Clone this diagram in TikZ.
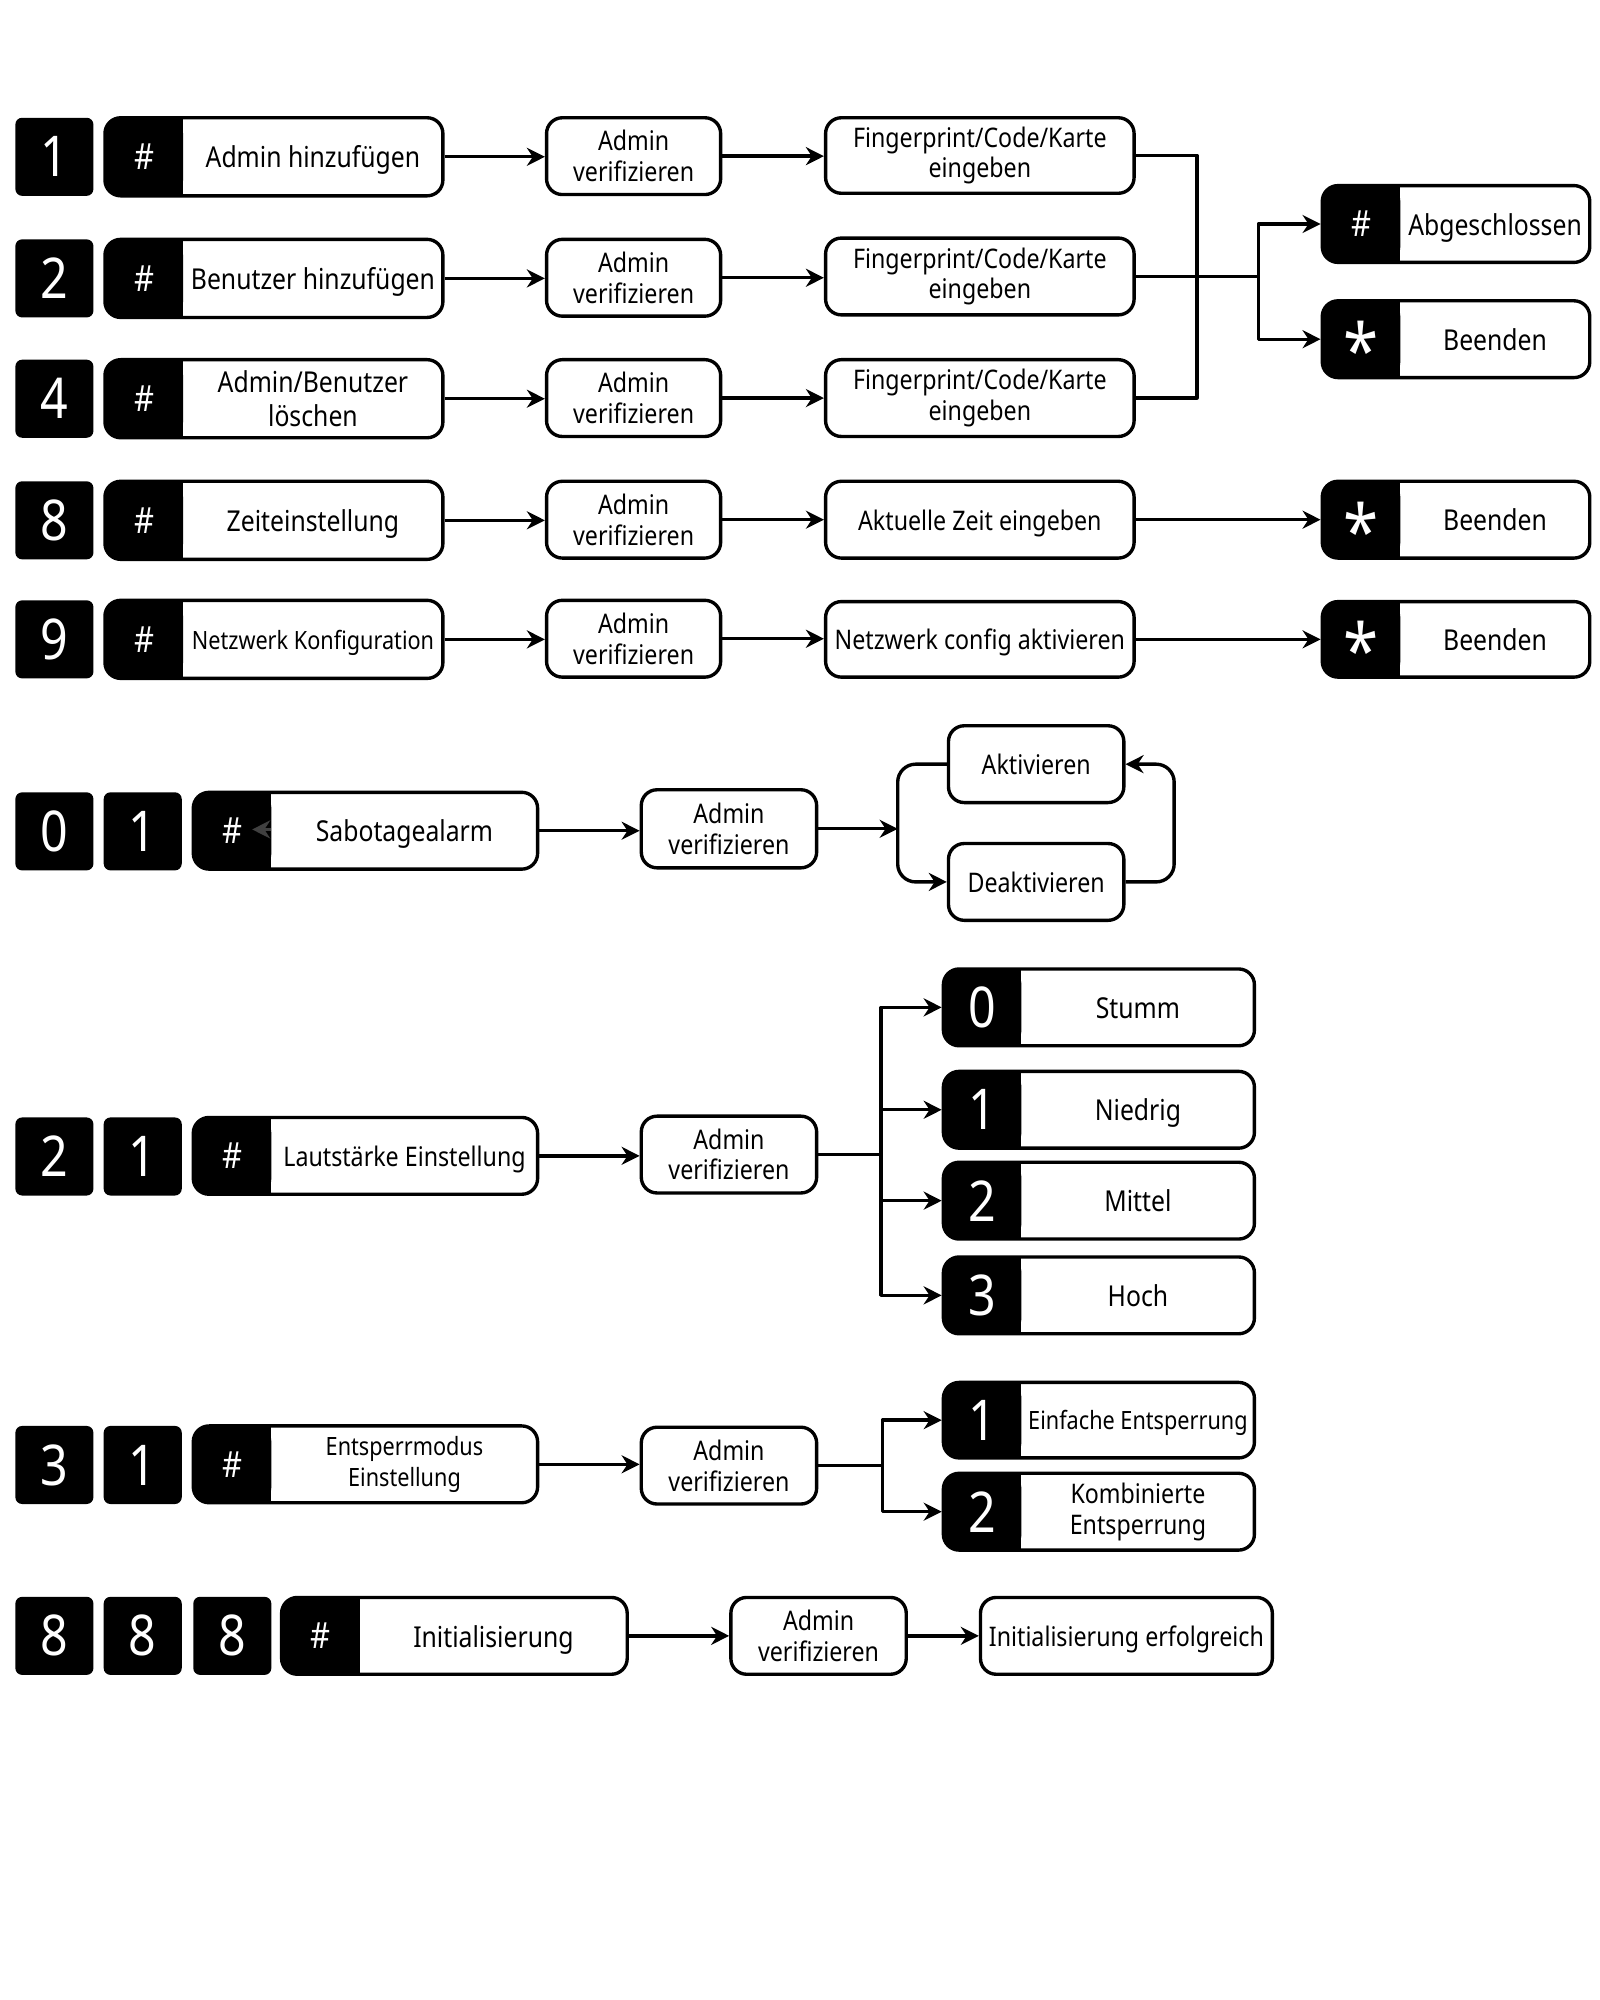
\documentclass[tikz,border=0pt]{standalone}
\usepackage{fontspec}
\setmainfont{Noto Sans}[FakeStretch=0.86]
\usetikzlibrary{arrows.meta,fit}

\tikzset{
  base/.style={line width=1.5pt},
  box/.style={base, draw, fill=white, rounded corners=7pt, inner sep=0pt},
  txt/.style={align=center, inner sep=0pt, font=\fontsize{12}{13.6}\selectfont, text height=12.8pt, text depth=3.5pt},
  lab/.style={font=\fontsize{12.8}{15.3}\selectfont, text height=13.7pt, text depth=3.75pt},
  small/.style={font=\fontsize{11.2}{13.6}\selectfont, text height=12pt, text depth=3.3pt},
  multi/.style={text height=, text depth=},
  keycap/.style={fill=black, rounded corners=3pt, minimum size=1.22cm, inner sep=0pt, text=white, font=\fontsize{25}{25}\selectfont},
  hash/.style={text=white, inner sep=0pt, font=\fontsize{16}{16}\selectfont},
  digit/.style={text=white, inner sep=0pt, font=\fontsize{25}{25}\selectfont},
  starsym/.style={text=white, inner sep=0pt, yshift=-4.5pt, font=\fontsize{33}{33}\selectfont\bfseries},
  arr/.style={base, -{Stealth[length=8pt,width=8pt]}},
}

% box from corners: name, x1, y1, x2, y2, text
\newcommand\bx[7][]{%
  \node[box, fit={(#3,#4) (#5,#6)}] (#2) {};
  \node[txt, #1] (#2-t) at (#2.center) {#7};}
% box with black tag on the left: name, x1, y1, x2, y2, tag style, tag, text
\newcommand\tagbox[9][]{%
  \node[box, fit={(#3,#4) (#5,#6)}] (#2) {};
  \fill[rounded corners=7pt] (#3,#4) rectangle ({#3+61},#6);
  \fill ({#3+31},#4) rectangle ({#3+61},#6);
  \node[#7] (#2-s) at ({#3+30.5},{(#4+#6)/2}) {#8};
  \node[txt, lab, #1] (#2-t) at ({(#3+61+#5)/2},{(#4+#6)/2}) {#9};}

\begin{document}
\begin{tikzpicture}[x=0.02cm, y=-0.02cm, line join=round]
\useasboundingbox (0,0) rectangle (1250,1562.5);
% Einstellungen 1 bis 9
\foreach \n/\t/\lab/\f in {1/92/{Admin hinzufügen}/lab, 2/187/{Benutzer hinzufügen}/lab, 4/281/{Admin/Benutzer\\löschen}/multi, 8/376/Zeiteinstellung/lab, 9/469/{Netzwerk Konfiguration}/small}{
  \node[keycap] (k\n) at (42.5,\t+30.5) {\n};
  \tagbox[\f]{h\n}{82}{\t}{346}{\t+61}{hash}{\#}{\lab}
  \bx[multi]{v\n}{427}{\t}{563}{\t+60}{Admin\\verifizieren}
  \draw[arr] (h\n.east) -- (h\n.east -| v\n.west);
}
\bx[multi]{f1}{645}{92}{886}{151}{Fingerprint/Code/Karte\\eingeben}
\bx[multi]{f2}{645}{186}{886}{246}{Fingerprint/Code/Karte\\eingeben}
\bx[multi]{f4}{645}{281}{886}{341}{Fingerprint/Code/Karte\\eingeben}
\bx{f8}{645}{376}{886}{436}{Aktuelle Zeit eingeben}
\bx{f9}{645}{470}{886}{529}{Netzwerk config aktivieren}
\foreach \n in {1,2,4,8,9} \draw[arr] (v\n.east) -- (v\n.east -| f\n.west);
\tagbox{e1}{1033}{145}{1242}{205}{hash}{\#}{Abgeschlossen}
\tagbox{e2}{1033}{235}{1242}{295}{starsym}{*}{Beenden}
\tagbox{e8}{1033}{376}{1242}{436}{starsym}{*}{Beenden}
\tagbox{e9}{1033}{470}{1242}{529}{starsym}{*}{Beenden}
\coordinate (m) at (935,216);
\coordinate (mm) at (983,216);
\draw[base] (f1.east) -| (m) |- (f4.east);
\draw[base] (f2.east) -- (mm);
\draw[arr] (mm) |- (e1.west);
\draw[arr] (mm) |- (e2.west);
\draw[arr] (f8.east) -- (f8.east -| e8.west);
\draw[arr] (f9.east) -- (f9.east -| e9.west);
% Sabotagealarm
\node[keycap] (s0) at (42.5,649.5) {0};
\node[keycap] (s1) at (111.5,649.5) {1};
\tagbox{s}{151}{619}{420}{679}{hash}{\#}{Sabotagealarm}
\coordinate (sa) at (212,648);
\draw[arr, black!75] (sa) -- ++(-15,0);
\bx[multi]{sv}{501}{617}{638}{678}{Admin\\verifizieren}
\bx{akt}{741}{567}{878}{627}{Aktivieren}
\bx{deakt}{741}{659}{878}{719}{Deaktivieren}
\draw[arr] (s.east) -- (s.east -| sv.west);
\draw[arr] (sv.east) -- ++(62,0) coordinate (sj);
\draw[arr, rounded corners=8pt] (akt.west) -| (sj) |- (deakt.west);
\draw[arr, rounded corners=8pt] (deakt.east) -- ++(38,0) |- (akt.east);
% Lautstaerke
\node[keycap] (l2) at (42.5,903.5) {2};
\node[keycap] (l1) at (111.5,903.5) {1};
\tagbox[txt]{l}{151}{873}{420}{933}{hash}{\#}{Lautstärke Einstellung}
\bx[multi]{lv}{501}{872}{638}{932}{Admin\\verifizieren}
\foreach \n/\t/\lab in {0/757/Stumm, 1/837/Niedrig, 2/908/Mittel, 3/982/Hoch}
  \tagbox{vol\n}{737}{\t}{980}{\t+60}{digit}{\n}{\lab};
\draw[arr] (l.east) -- (l.east -| lv.west);
\draw[base] (lv.east) -- ++(49,0) coordinate (lj);
\foreach \n in {0,...,3} \draw[arr] (lj) |- (vol\n.west);
% Entsperrmodus
\node[keycap] (m3) at (42.5,1144.5) {3};
\node[keycap] (m1) at (111.5,1144.5) {1};
\tagbox[small,multi]{em}{151}{1114}{420}{1174}{hash}{\#}{Entsperrmodus\\Einstellung}
\bx[multi]{mv}{501}{1115}{638}{1175}{Admin\\verifizieren}
\tagbox[small]{u1}{737}{1080}{980}{1139}{digit}{1}{Einfache Entsperrung}
\tagbox[txt,multi]{u2}{737}{1151}{980}{1211}{digit}{2}{Kombinierte\\Entsperrung}
\draw[arr] (em.east) -- (em.east -| mv.west);
\draw[base] (mv.east) -- ++(50,0) coordinate (mj);
\foreach \n in {1,2} \draw[arr] (mj) |- (u\n.west);
% Initialisierung
\foreach \n/\x in {1/42.5, 2/111.5, 3/181.5} \node[keycap] (i\n) at (\x,1278) {8};
\tagbox{i}{220}{1248}{490}{1308}{hash}{\#}{Initialisierung}
\bx[multi]{iv}{571}{1248}{708}{1308}{Admin\\verifizieren}
\bx{ie}{766}{1248}{994}{1308}{Initialisierung erfolgreich}
\draw[arr] (i.east) -- (i.east -| iv.west);
\draw[arr] (iv.east) -- (iv.east -| ie.west);
\end{tikzpicture}
\end{document}
